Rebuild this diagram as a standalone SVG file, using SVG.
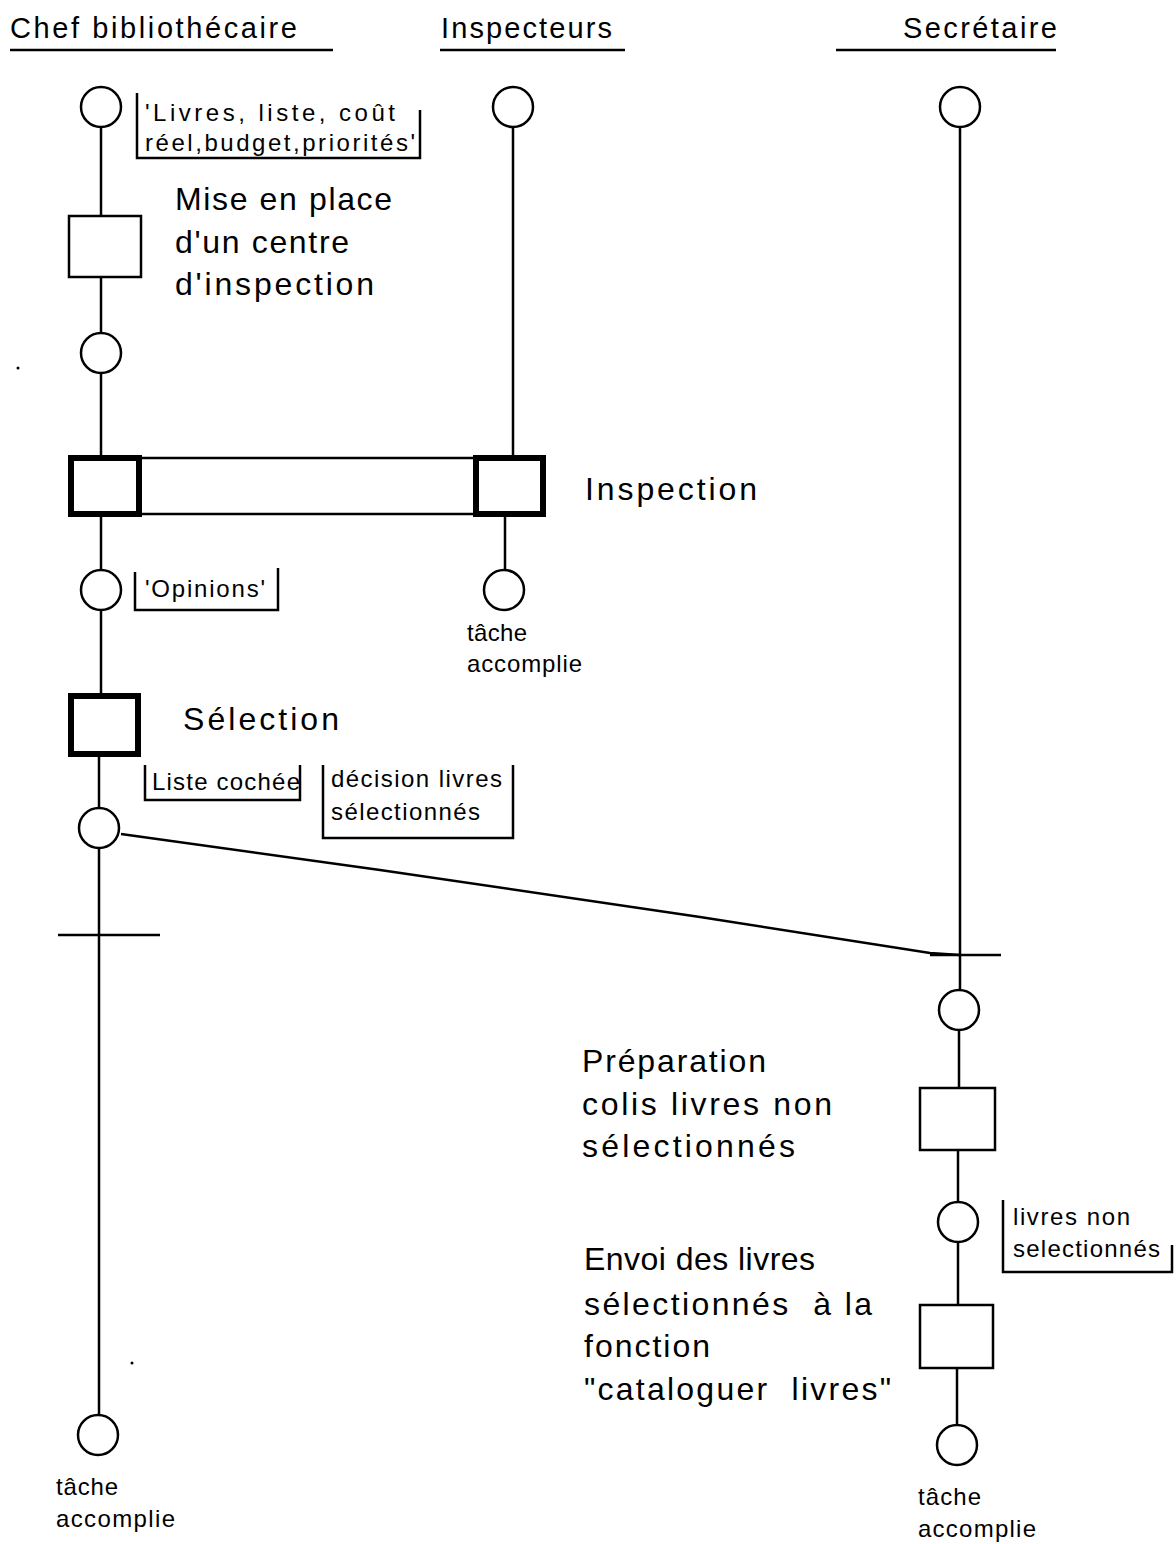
<svg xmlns="http://www.w3.org/2000/svg" width="1176" height="1544" viewBox="0 0 1176 1544">
<style>
  .ln{stroke:#000;stroke-width:2.5;fill:none}
  .st{fill:#fff;stroke:#000;stroke-width:2.5}
  .box{fill:#fff;stroke:#000;stroke-width:2.5}
  .thick{fill:#fff;stroke:#000;stroke-width:6}
  .hd{font-family:"Liberation Sans",Arial,sans-serif;font-size:29px;fill:#000}
  .big{font-family:"Liberation Sans",Arial,sans-serif;font-size:32px;fill:#000}
  .sm{font-family:"Liberation Sans",Arial,sans-serif;font-size:24px;fill:#000}
</style>
<rect width="1176" height="1544" fill="#fff"/>

<g id="headers">
  <text class="hd" x="10" y="38" textLength="287" lengthAdjust="spacing">Chef bibliothécaire</text>
  <line class="ln" x1="10" y1="50" x2="333" y2="50"/>
  <text class="hd" x="441" y="38" textLength="171" lengthAdjust="spacing">Inspecteurs</text>
  <line class="ln" x1="440" y1="50" x2="625" y2="50"/>
  <text class="hd" x="903" y="38" textLength="154" lengthAdjust="spacing">Secrétaire</text>
  <line class="ln" x1="836" y1="50" x2="1056" y2="50"/>
</g>

<g id="connectors">
  <line class="ln" x1="101" y1="127" x2="101" y2="216"/>
  <line class="ln" x1="101" y1="277" x2="101" y2="333"/>
  <line class="ln" x1="101" y1="373" x2="101" y2="455"/>
  <line class="ln" x1="101" y1="516" x2="101" y2="570"/>
  <line class="ln" x1="101" y1="610" x2="101" y2="693"/>
  <line class="ln" x1="99" y1="757" x2="99" y2="808"/>
  <line class="ln" x1="99" y1="848" x2="99" y2="1415"/>
  <line class="ln" x1="58" y1="935" x2="160" y2="935"/>
  <line class="ln" x1="513" y1="127" x2="513" y2="455"/>
  <line class="ln" x1="505" y1="516" x2="505" y2="570"/>
  <line class="ln" x1="960" y1="127" x2="960" y2="990"/>
  <line class="ln" x1="930" y1="955" x2="1001" y2="955"/>
  <line class="ln" x1="959" y1="1030" x2="959" y2="1088"/>
  <line class="ln" x1="958" y1="1150" x2="958" y2="1202"/>
  <line class="ln" x1="958" y1="1242" x2="958" y2="1305"/>
  <line class="ln" x1="957" y1="1368" x2="957" y2="1425"/>
  <polyline class="ln" points="121,834 380,870 700,917 930,953 960,955"/>
</g>

<g id="chef-start">
  <circle class="st" cx="101" cy="107" r="20"/>
  <polyline class="ln" points="137,93 137,158 420,158 420,110"/>
  <text class="sm" x="145" y="121" textLength="250" lengthAdjust="spacing">'Livres,  liste,  coût</text>
  <text class="sm" x="145" y="151" textLength="270" lengthAdjust="spacing">réel,budget,priorités'</text>
</g>

<g id="mise-en-place">
  <rect class="box" x="69" y="216" width="72" height="61"/>
  <text class="big" x="175" y="210" textLength="217" lengthAdjust="spacing">Mise en place</text>
  <text class="big" x="175" y="253" textLength="174" lengthAdjust="spacing">d'un centre</text>
  <text class="big" x="175" y="295" textLength="199" lengthAdjust="spacing">d'inspection</text>
</g>

<g id="chef-state2">
  <circle class="st" cx="101" cy="353" r="20"/>
</g>

<g id="inspection">
  <rect class="box" x="70" y="458" width="473" height="56"/>
  <rect class="thick" x="71" y="458" width="68" height="56"/>
  <rect class="thick" x="476" y="458" width="67" height="56"/>
  <text class="big" x="585" y="500" textLength="172" lengthAdjust="spacing">Inspection</text>
</g>

<g id="opinions">
  <circle class="st" cx="101" cy="590" r="20"/>
  <polyline class="ln" points="135,572 135,610 278,610 278,568"/>
  <text class="sm" x="145" y="597" textLength="120" lengthAdjust="spacing">'Opinions'</text>
</g>

<g id="inspecteurs-start">
  <circle class="st" cx="513" cy="107" r="20"/>
</g>

<g id="inspecteurs-end">
  <circle class="st" cx="504" cy="590" r="20"/>
  <text class="sm" x="467" y="641" textLength="60" lengthAdjust="spacing">tâche</text>
  <text class="sm" x="467" y="672" textLength="115" lengthAdjust="spacing">accomplie</text>
</g>

<g id="selection">
  <rect class="thick" x="71" y="696" width="67" height="58"/>
  <text class="big" x="183" y="730" textLength="156" lengthAdjust="spacing">Sélection</text>
</g>

<g id="chef-decision">
  <circle class="st" cx="99" cy="828" r="20"/>
  <polyline class="ln" points="145,765 145,800 300,800 300,765"/>
  <text class="sm" x="152" y="790" textLength="148" lengthAdjust="spacing">Liste cochée</text>
  <polyline class="ln" points="323,765 323,838 513,838 513,765"/>
  <text class="sm" x="331" y="787" textLength="171" lengthAdjust="spacing">décision livres</text>
  <text class="sm" x="331" y="820" textLength="149" lengthAdjust="spacing">sélectionnés</text>
</g>

<g id="chef-end">
  <circle class="st" cx="98" cy="1435" r="20"/>
  <text class="sm" x="56" y="1495" textLength="62" lengthAdjust="spacing">tâche</text>
  <text class="sm" x="56" y="1527" textLength="119" lengthAdjust="spacing">accomplie</text>
</g>

<g id="secretaire-start">
  <circle class="st" cx="960" cy="107" r="20"/>
</g>

<g id="secretaire-state">
  <circle class="st" cx="959" cy="1010" r="20"/>
</g>

<g id="preparation">
  <rect class="box" x="920" y="1088" width="75" height="62"/>
  <text class="big" x="582" y="1072" textLength="184" lengthAdjust="spacing">Préparation</text>
  <text class="big" x="582" y="1115" textLength="250" lengthAdjust="spacing">colis livres non</text>
  <text class="big" x="582" y="1157" textLength="213" lengthAdjust="spacing">sélectionnés</text>
</g>

<g id="livres-non">
  <circle class="st" cx="958" cy="1222" r="20"/>
  <polyline class="ln" points="1003,1200 1003,1272 1172,1272 1172,1245"/>
  <text class="sm" x="1013" y="1225" textLength="117" lengthAdjust="spacing">livres non</text>
  <text class="sm" x="1013" y="1257" textLength="147" lengthAdjust="spacing">selectionnés</text>
</g>

<g id="envoi">
  <rect class="box" x="920" y="1305" width="73" height="63"/>
  <text class="big" x="584" y="1270" textLength="231" lengthAdjust="spacing">Envoi des livres</text>
  <text class="big" x="584" y="1315" textLength="288" lengthAdjust="spacing" xml:space="preserve">sélectionnés  à la</text>
  <text class="big" x="584" y="1357" textLength="126" lengthAdjust="spacing">fonction</text>
  <text class="big" x="584" y="1400" textLength="307" lengthAdjust="spacing" xml:space="preserve">"cataloguer  livres"</text>
</g>

<g id="secretaire-end">
  <circle class="st" cx="957" cy="1445" r="20"/>
  <text class="sm" x="918" y="1505" textLength="63" lengthAdjust="spacing">tâche</text>
  <text class="sm" x="918" y="1537" textLength="118" lengthAdjust="spacing">accomplie</text>
</g>

<g id="specks">
  <circle cx="18" cy="368" r="1.5" fill="#000"/>
  <circle cx="132" cy="1363" r="1.5" fill="#000"/>
</g>
</svg>
